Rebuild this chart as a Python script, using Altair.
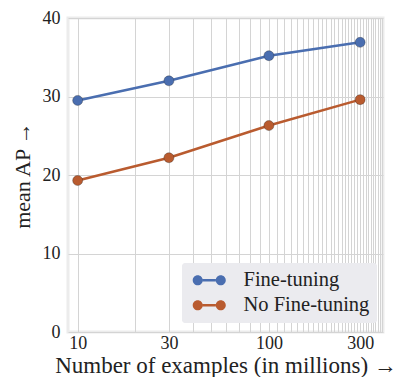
import altair as alt
import pandas as pd

series_names = ["Fine-tuning", "No Fine-tuning"]
examples = [10, 30, 100, 300]
fine_tuning = [29.5, 32.0, 35.2, 36.9]
no_fine_tuning = [19.3, 22.2, 26.3, 29.6]
x_tick_labels = [10, 30, 100, 300]
x_grid_values = [10, 20, 30, 40, 50, 60, 70, 80, 90, 100, 110, 120, 130, 140, 150,
                 160, 170, 180, 190, 200, 210, 220, 230, 240, 250, 260, 270, 280,
                 290, 300, 310, 320, 330, 340, 350, 360, 370, 380, 390]
y_ticks = [0, 10, 20, 30, 40]
colors = ["#4a6eb0", "#b95b2f"]

rows = []
for name, vals in zip(series_names, [fine_tuning, no_fine_tuning]):
    for x, y in zip(examples, vals):
        rows.append({"series": name, "examples": x, "ap": y})
df = pd.DataFrame(rows)

FONT = "Liberation Serif"
TXT = "#222222"

xenc = alt.X(
    "examples:Q",
    scale=alt.Scale(type="log", domain=[8.9, 395], nice=False),
    axis=alt.Axis(
        values=x_grid_values,
        labelExpr="indexof([" + ",".join(str(v) for v in x_tick_labels) + "], datum.value) >= 0 ? datum.label : ''",
        format="d",
        labelOverlap=False,
        title="Number of examples (in millions) \u2192",
        tickSize=0,
        labelPadding=2,
        titlePadding=2,
        domain=False,
        grid=True, gridColor="#d4d4d4", gridWidth=1,
        labelFont=FONT, labelFontSize=18, labelColor=TXT,
        titleFont=FONT, titleFontSize=23, titleFontWeight="normal", titleColor=TXT,
    ),
)
yenc = alt.Y(
    "ap:Q",
    scale=alt.Scale(domain=[0, 40], nice=False),
    axis=alt.Axis(values=y_ticks, title="mean AP \u2192", tickSize=0, labelPadding=8,
                  titlePadding=8, domain=False,
                  grid=True, gridColor="#d4d4d4", gridWidth=1,
                  labelFont=FONT, labelFontSize=18, labelColor=TXT,
                  titleFont=FONT, titleFontSize=22, titleFontWeight="normal", titleColor=TXT),
)

scale = alt.Scale(domain=series_names, range=colors)
sym_path = ("M-1.91,0 a0.58,0.58 0 1,0 1.16,0 a0.58,0.58 0 1,0 -1.16,0 Z "
            "M-0.76,-0.13 L0.76,-0.13 L0.76,0.13 L-0.76,0.13 Z "
            "M0.75,0 a0.58,0.58 0 1,0 1.16,0 a0.58,0.58 0 1,0 -1.16,0 Z")
legend = alt.Legend(
    title=None, orient="none", legendX=114, legendY=245,
    symbolType=sym_path, symbolSize=300, symbolStrokeWidth=0,
    symbolOffset=10,
    labelFont=FONT, labelFontSize=20.5, labelColor=TXT,
    fillColor="#ebebef", padding=7, cornerRadius=3, rowPadding=4,
    labelOffset=24,
)

base = alt.Chart(df)
line = base.mark_line(strokeWidth=2.5).encode(
    x=xenc, y=yenc,
    color=alt.Color("series:N", scale=scale, legend=legend),
    detail="series:N",
)
pts = base.mark_point(filled=True, size=100, opacity=1).encode(
    x=xenc, y=yenc,
    color=alt.Color("series:N", scale=scale, legend=legend),
)
outline = base.mark_point(filled=False, size=100, stroke="#2a2a2a", strokeWidth=0.8,
                          strokeOpacity=0.6).encode(x=xenc, y=yenc)

chart = alt.layer(line, pts, outline).properties(
    width=315, height=314,
    autosize=alt.AutoSizeParams(type="none"),
    padding={"left": 60, "top": 10, "right": 15, "bottom": 45},
).configure(
    font=FONT
).configure_legend(
    labelFont=FONT
).configure_view(
    stroke="#ececec", strokeWidth=3, fill="white"
)

chart.save("out.html", embed_options={"renderer": "svg", "actions": False})
